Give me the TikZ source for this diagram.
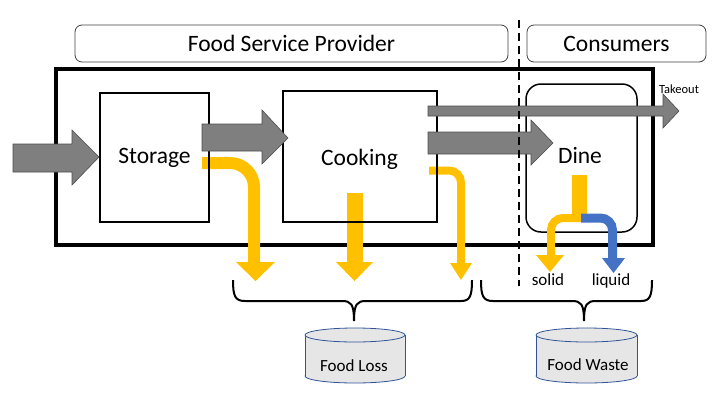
\documentclass[tikz,border=0pt]{standalone}
\usepackage{fontspec}
\setmainfont{Carlito}
\definecolor{yel}{HTML}{FFC000}
\definecolor{blu}{HTML}{4472C4}
\definecolor{grayarrow}{HTML}{7F7F7F}
\definecolor{cylfill}{HTML}{E7E6E6}
\definecolor{cylline}{HTML}{2F5597}
\begin{document}
\begin{tikzpicture}[x=1pt,y=-1pt,
  big/.style={font=\fontsize{23.5}{28}\selectfont},
  mid/.style={font=\fontsize{17}{20}\selectfont},
  hdr/.style={draw=black!75, line width=0.8pt, rounded corners=7pt, inner sep=0pt, big},
  stagebox/.style={draw=black, line width=1.3pt, inner sep=0pt},
  garrow/.style={fill=grayarrow, draw=black!70, line width=0.6pt},
  yband/.style={draw=yel, line width=#1},
  bband/.style={draw=blu, line width=#1},
  yhead/.style={fill=yel},
  bhead/.style={fill=blu},
  bracepath/.style={draw=black, line width=2pt},
  cyl/.style={fill=cylfill, draw=cylline, line width=0.8pt}
]
\useasboundingbox (0,0) rectangle (720,405);

% header boxes
\node[hdr, minimum width=433pt, minimum height=37pt] (fsp) at (291.5,43.5) {Food Service Provider};
\node[hdr, minimum width=179pt, minimum height=37pt] (cons) at (616.5,43.5) {Consumers};

% big frame
\draw[line width=4pt] (56,69) rectangle (653,245);

% yellow loss arrows
\draw[yband=12pt, rounded corners=24pt] (202,163) -| (254,263);
\fill[yhead] (236,262) -- (275,262) -- (255.5,281) -- cycle;
\draw[yband=16pt] (355,193) -- (355,263);
\fill[yhead] (336,262) -- (373,262) -- (354.5,281) -- cycle;
\draw[yband=8pt, rounded corners=12pt] (429,170.5) -| (461,264);
\fill[yhead] (450,263) -- (472,263) -- (461,280) -- cycle;

% stage boxes
\node[stagebox, minimum width=109pt, minimum height=129pt] (storage) at (154.5,157.5) {};
\node[big, anchor=base] (storagetxt) at (154.5,163.5) {Storage};
\node[stagebox, minimum width=154pt, minimum height=131pt] (cooking) at (360,156.5) {};
\node[big, anchor=base] (cookingtxt) at (359.5,165) {Cooking};
\node[draw=black, line width=1.5pt, rounded corners=15pt, minimum width=111pt, minimum height=148pt, inner sep=0pt] (dinebox) at (581.5,158) {};
\node[big, anchor=base] (dine) at (580,163.5) {Dine};

% gray flow arrows
\draw[garrow] (13,144) -- (72,144) -- (72,130) -- (99,157) -- (72,185) -- (72,172) -- (13,172) -- cycle;
\draw[garrow] (202,124) -- (262,124) -- (262,110) -- (288,138) -- (262,164) -- (262,151) -- (202,151) -- cycle;
\draw[garrow] (428,132) -- (531,132) -- (531,120) -- (553,143) -- (531,165) -- (531,154) -- (428,154) -- cycle;
\draw[garrow] (428,106) -- (663,106) -- (663,94) -- (679,111) -- (663,128) -- (663,116) -- (428,116) -- cycle;
\node[font=\fontsize{12.5}{14}\selectfont, anchor=base] (takeout) at (679,93) {Takeout};

% dine split
\draw[yband=15pt] (579.5,175) -- (579.5,215);
\draw[yband=8pt, rounded corners=12pt] (581,218) -| (551,256);
\fill[yhead] (536,255) -- (564,255) -- (550,272) -- cycle;
\draw[bband=9pt, rounded corners=12pt] (581,218) -| (612.5,259);
\fill[bhead] (602,258) -- (625,258) -- (613.5,273) -- cycle;
\node[mid, anchor=base] (solid) at (548,285) {solid};
\node[mid, anchor=base] (liquid) at (611,285) {liquid};

% dashed divider
\draw[line width=1.8pt, dash pattern=on 8pt off 5pt] (519,20) -- (519,286);

% braces
\draw[bracepath] (233,280) .. controls (233,296) and (235,301) .. (245,301) -- (342,301) .. controls (351,301) and (354,304) .. (354,321)
  .. controls (354,304) and (357,301) .. (366,301) -- (461,301) .. controls (470,301) and (472,296) .. (472,280);
\draw[bracepath] (481,280) .. controls (481,296) and (483,301) .. (493,301) -- (572,301) .. controls (581,301) and (584,304) .. (584,321)
  .. controls (584,304) and (587,301) .. (596,301) -- (641,301) .. controls (650,301) and (652,296) .. (652,280);

% cylinders
\draw[cyl] (355,376) ellipse [x radius=50, y radius=7];
\fill[cylfill] (305,335) rectangle (405,376);
\draw[cylline, line width=0.8pt] (305,335) -- (305,376) (405,335) -- (405,376);
\draw[cyl] (355,335) ellipse [x radius=50, y radius=7];
\node[mid, anchor=base] (loss) at (354,371) {Food Loss};

\draw[cyl] (586.5,376) ellipse [x radius=50.5, y radius=7];
\fill[cylfill] (536,335) rectangle (637,376);
\draw[cylline, line width=0.8pt] (536,335) -- (536,376) (637,335) -- (637,376);
\draw[cyl] (586.5,335) ellipse [x radius=50.5, y radius=7];
\node[mid, anchor=base] (waste) at (588,370) {Food Waste};
\end{tikzpicture}
\end{document}
